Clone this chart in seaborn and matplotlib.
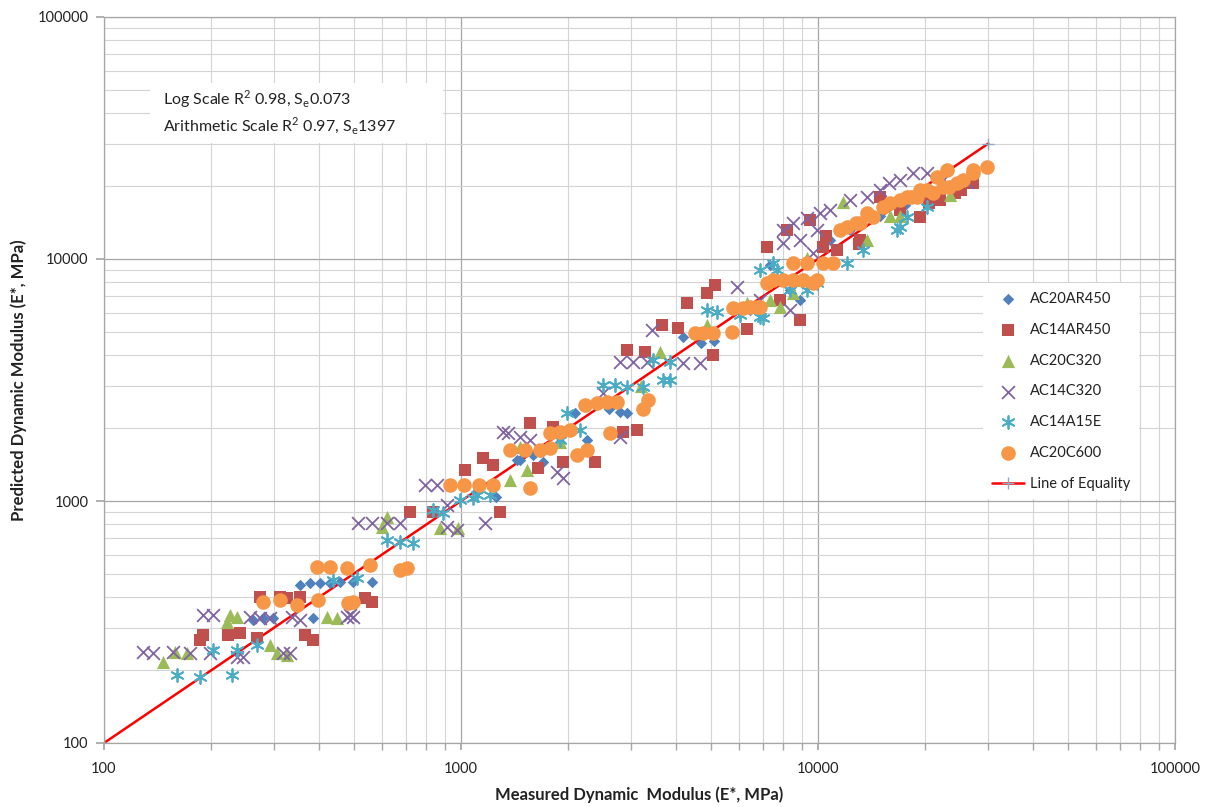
import numpy as np
import pandas as pd
import matplotlib
matplotlib.use("Agg")
import matplotlib.pyplot as plt
from matplotlib.patches import Rectangle
from matplotlib.ticker import LogLocator, FixedLocator, NullFormatter
import seaborn as sns

# Measured vs predicted dynamic modulus (MPa) for each asphalt mix
ac20ar450_meas = [261, 279, 297, 385, 354, 378, 403, 430, 458, 498, 564, 1116, 1250, 1436,
                  1463, 1591, 1665, 1697, 1893, 2080, 2250, 2600, 2918, 2787, 4188, 4700,
                  5100, 6450, 7340, 8360, 8910, 10800, 12300, 13120, 14920, 17500, 19310,
                  21970, 24900]
ac20ar450_pred = [322, 329, 329, 329, 450, 458, 458, 458, 462, 462, 462, 1110, 1039, 1477,
                  1477, 1549, 1590, 1449, 1745, 2310, 1790, 2400, 2310, 2333, 4762, 4500,
                  4600, 6155, 9440, 7450, 6770, 11990, 13190, 13890, 15100, 16650, 18500,
                  21210, 20200]

ac14ar450_meas = [186, 189, 222, 240, 268, 274, 311, 326, 354, 366, 385, 538, 564, 720, 835,
                  1290, 1026, 1153, 1230, 1560, 1643, 1811, 1930, 2373, 2843, 3114, 2918,
                  3277, 3656, 4055, 4298, 4888, 5144, 5078, 6325, 7200, 7830, 8190, 8910,
                  9500, 10330, 10500, 11300, 13000, 13120, 14920, 17000, 19310, 20500,
                  21970, 24200, 25100, 26000, 27170]
ac14ar450_pred = [267, 279, 279, 285, 272, 401, 401, 397, 401, 279, 267, 397, 383, 902, 902,
                  902, 1343, 1506, 1409, 2101, 1369, 2023, 1449, 1449, 1928, 1965, 4209,
                  4130, 5338, 5190, 6580, 7240, 7810, 4011, 5150, 11210, 6770, 13190, 5600,
                  14500, 11210, 12500, 10890, 11500, 11990, 18030, 16000, 14920, 17000,
                  17540, 18740, 19270, 21000, 20620]

ac20c320_meas = [146, 158, 171, 221, 225, 236, 292, 305, 326, 422, 449, 601, 621, 874, 981,
                 1372, 1463, 1530, 1893, 3200, 3610, 4888, 6325, 7340, 7830, 8510, 8910,
                 9310, 11750, 13720, 15900, 16980, 19310, 23400]
ac20c320_pred = [216, 238, 235, 316, 338, 332, 254, 235, 231, 332, 329, 781, 859, 773, 773,
                 1222, 1672, 1343, 1745, 3000, 4130, 5338, 6580, 6770, 6340, 7240, 8190,
                 10100, 17200, 11990, 15100, 15100, 19270, 18300]

ac14c320_meas = [129, 137, 156, 174, 198, 189, 202, 236, 245, 256, 274, 292, 317, 332, 336,
                 354, 480, 498, 489, 514, 564, 621, 675, 793, 857, 914, 914, 975, 1170,
                 1312, 1355, 1463, 1560, 1858, 1930, 2500, 2787, 2787, 3034, 3319, 3427,
                 4188, 4670, 5930, 6885, 7985, 7985, 8360, 8510, 8910, 9310, 9690, 9940,
                 10130, 10800, 12300, 13720, 14920, 15800, 16980, 18450, 20200, 22400,
                 26120]
ac14c320_pred = [238, 235, 238, 235, 235, 338, 338, 227, 227, 332, 329, 329, 235, 235, 332,
                 322, 332, 332, 338, 811, 811, 811, 811, 1165, 1165, 781, 962, 759, 811,
                 1928, 1909, 1838, 1786, 1318, 1245, 2793, 1838, 3750, 3750, 3750, 5091,
                 3717, 3717, 7660, 6770, 13190, 11640, 6155, 14090, 11990, 14760, 10590,
                 13190, 15490, 15940, 17540, 18030, 19270, 20620, 21210, 22650, 22650,
                 21210, 20810]

ac14a15e_meas = [160, 186, 228, 202, 236, 268, 438, 511, 621, 675, 734, 835, 891, 994, 1081,
                 1110, 1205, 1893, 1983, 2153, 2500, 2698, 2918, 3237, 3451, 3680, 3850,
                 3850, 4888, 5210, 6050, 6885, 6885, 7020, 7480, 7670, 8360, 9310, 9940,
                 12050, 13380, 16640, 16980, 17760, 20200]
ac14a15e_pred = [191, 187, 191, 242, 242, 254, 472, 481, 690, 677, 670, 918, 892, 1008, 1029,
                 1059, 1059, 1786, 2310, 1965, 3015, 3015, 2958, 2958, 3824, 3162, 3162,
                 3750, 6155, 6045, 5868, 9005, 5760, 5705, 9620, 9005, 7450, 7450, 7960,
                 9620, 10890, 13190, 13560, 14920, 16400]

ac20c600_meas = [279, 311, 347, 398, 482, 498, 395, 430, 480, 556, 675, 706, 931, 1020, 1120,
                 1230, 1560, 1372, 1511, 1665, 1775, 2113, 2253, 1775, 1893, 2020, 2614,
                 2225, 2404, 2566, 2734, 3350, 3237, 4523, 4762, 5078, 5741, 5778, 6166,
                 6750, 6450, 6885, 7200, 7480, 7985, 8510, 9080, 9690, 9940, 8510, 9310,
                 10330, 11020, 11530, 12050, 12760, 13120, 13720, 14250, 15210, 15900,
                 16980, 18200, 18930, 20200, 20990, 22400, 23300, 24500, 25500, 17760,
                 19310, 21540, 22980, 27170, 27170, 29720]
ac20c600_pred = [383, 390, 372, 390, 379, 383, 534, 534, 529, 544, 519, 529, 1165, 1165, 1165,
                 1165, 1132, 1625, 1625, 1625, 1656, 1549, 1625, 1909, 1928, 1965, 1909,
                 2492, 2542, 2566, 2566, 2612, 2400, 4945, 4945, 4945, 4990, 6280, 6280,
                 6340, 6340, 6340, 7960, 8190, 8190, 8190, 8190, 7960, 8190, 9620, 9620,
                 9620, 9620, 13190, 13560, 14090, 14090, 15490, 14920, 16400, 17000,
                 17540, 18030, 18030, 19270, 18740, 19850, 19850, 20620, 21210, 18030,
                 19270, 21820, 23330, 23330, 22600, 24000]

equality_range = [100, 30000]

series = [
    ("AC20AR450", ac20ar450_meas, ac20ar450_pred),
    ("AC14AR450", ac14ar450_meas, ac14ar450_pred),
    ("AC20C320", ac20c320_meas, ac20c320_pred),
    ("AC14C320", ac14c320_meas, ac14c320_pred),
    ("AC14A15E", ac14a15e_meas, ac14a15e_pred),
    ("AC20C600", ac20c600_meas, ac20c600_pred),
]

styles = {
    "AC20AR450": dict(marker="D", s=34, color="#4F81BD", linewidth=0),
    "AC14AR450": dict(marker="s", s=82, color="#C0504D", linewidth=0),
    "AC20C320": dict(marker="^", s=90, color="#9BBB59", linewidth=0),
    "AC14C320": dict(marker="x", s=85, color="#8064A2", linewidth=1.3),
    "AC14A15E": dict(marker=(6, 2, 0), s=85, color="#4BACC6", linewidth=1.3),
    "AC20C600": dict(marker="o", s=110, color="#F79646", linewidth=0),
}

sns.set_theme(style="white")
plt.rcParams["font.family"] = ["Lato", "DejaVu Sans"]
plt.rcParams["mathtext.fontset"] = "custom"
plt.rcParams["mathtext.rm"] = "Lato"

fig = plt.figure(figsize=(12.12, 8.07), dpi=100)
ax = fig.add_axes([104 / 1212, 1 - 743 / 807, (1175 - 104) / 1212, (743 - 17) / 807])

# Line of equality underneath the data
line_df = pd.DataFrame({"x": equality_range, "y": equality_range})
sns.lineplot(data=line_df, x="x", y="y", ax=ax, color="#FF0000", linewidth=1.8,
             marker="+", markersize=9, markeredgecolor="#8EA9C8", markeredgewidth=1.0,
             label="Line of Equality", zorder=2)

for name, meas, pred in series:
    df = pd.DataFrame({"Measured": meas, "Predicted": pred})
    st = styles[name]
    sns.scatterplot(data=df, x="Measured", y="Predicted", ax=ax, marker=st["marker"],
                    s=st["s"], color=st["color"], linewidth=st["linewidth"],
                    edgecolor=st["color"] if st["linewidth"] == 0 else None,
                    label=name, zorder=3)

ax.set_xscale("log")
ax.set_yscale("log")
ax.set_xlim(100, 100000)
ax.set_ylim(100, 100000)

ax.xaxis.set_major_locator(FixedLocator([100, 1000, 10000, 100000]))
ax.yaxis.set_major_locator(FixedLocator([100, 1000, 10000, 100000]))
ax.xaxis.set_minor_locator(LogLocator(base=10, subs=np.arange(2, 10), numticks=20))
ax.yaxis.set_minor_locator(LogLocator(base=10, subs=np.arange(2, 10), numticks=20))
ax.xaxis.set_minor_formatter(NullFormatter())
ax.yaxis.set_minor_formatter(NullFormatter())
ax.set_xticklabels(["100", "1000", "10000", "100000"])
ax.set_yticklabels(["100", "1000", "10000", "100000"])

ax.grid(which="major", color="#A6A6A6", linewidth=0.9)
ax.grid(which="minor", color="#D4D4D4", linewidth=0.8)
ax.set_axisbelow(True)

for side in ["left", "bottom", "top", "right"]:
    ax.spines[side].set_color("#A6A6A6")
    ax.spines[side].set_linewidth(0.9)

ax.tick_params(axis="x", which="both", direction="out", length=5, color="#A6A6A6",
               pad=9, labelsize=10.5, labelcolor="#222222", bottom=True)
ax.tick_params(axis="y", which="major", direction="out", length=6, color="#A6A6A6",
               pad=5, labelsize=10.5, labelcolor="#222222", left=True)
ax.tick_params(axis="y", which="minor", left=False)

ax.set_xlabel("Measured Dynamic  Modulus (E*, MPa)", fontsize=12, fontweight="bold",
              color="#222222", labelpad=7)
ax.set_ylabel("Predicted Dynamic Modulus (E*, MPa)", fontsize=12, fontweight="bold",
              color="#222222", labelpad=8)

# Fit statistics box
ax.add_patch(Rectangle((150 / 1212, 1 - 143 / 807), 293 / 1212, 60 / 807,
                       transform=fig.transFigure, facecolor="white", edgecolor="none",
                       zorder=4))
ax.text(163 / 1212, 1 - 88 / 807,
        "Log Scale R$^{\\mathregular{2}}$ 0.98, S$_{\\mathregular{e}}$0.073\n"
        "Arithmetic Scale R$^{\\mathregular{2}}$ 0.97, S$_{\\mathregular{e}}$1397",
        transform=fig.transFigure, ha="left", va="top", fontsize=11.5, color="#222222",
        linespacing=1.35, zorder=5)

handles, labels = ax.get_legend_handles_labels()
order = [labels.index(n) for n, _, _ in series] + [labels.index("Line of Equality")]
leg = ax.legend([handles[i] for i in order], [labels[i] for i in order],
                loc="upper left", bbox_to_anchor=(976 / 1212, 1 - 276 / 807),
                bbox_transform=fig.transFigure, frameon=True, facecolor="white",
                edgecolor="none", framealpha=1, fancybox=False, fontsize=10.5,
                labelspacing=1.15, handlelength=2.2, handletextpad=0.4,
                borderpad=0.6)
for t in leg.get_texts():
    t.set_color("#222222")

fig.savefig("out.png", dpi=100)
